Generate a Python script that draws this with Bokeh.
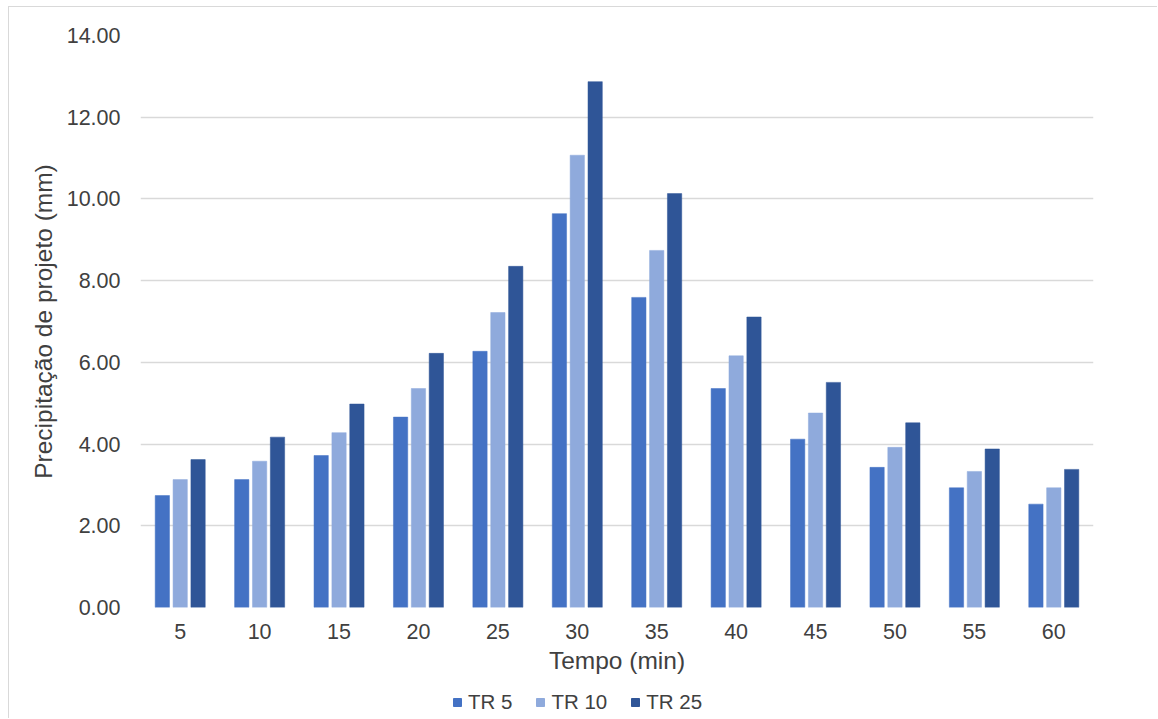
from bokeh.plotting import figure
from bokeh.layouts import column
from bokeh.models import (FactorRange, Range1d, ColumnDataSource, FixedTicker,
                          NumeralTickFormatter, Legend, LegendItem)
from bokeh.transform import dodge
from bokeh.embed import file_html
from bokeh.resources import INLINE

categories = ["5", "10", "15", "20", "25", "30", "35", "40", "45", "50", "55", "60"]
tr5 = [2.74, 3.13, 3.72, 4.66, 6.27, 9.64, 7.59, 5.36, 4.12, 3.43, 2.93, 2.53]
tr10 = [3.13, 3.58, 4.28, 5.36, 7.22, 11.07, 8.74, 6.16, 4.76, 3.92, 3.33, 2.93]
tr25 = [3.62, 4.17, 4.98, 6.22, 8.35, 12.87, 10.13, 7.11, 5.51, 4.52, 3.88, 3.38]
series_names = ["TR 5", "TR 10", "TR 25"]
y_ticks = [0, 2, 4, 6, 8, 10, 12, 14]

colors = ["#4472C4", "#8FAADC", "#2F5597"]
FONT = "Liberation Sans"
TXT = "#404040"

source = ColumnDataSource(dict(cat=categories, tr5=tr5, tr10=tr10, tr25=tr25))
keys = ["tr5", "tr10", "tr25"]
offsets = [-0.225, 0.0, 0.225]

p = figure(x_range=FactorRange(*categories), y_range=Range1d(0, 14),
           width=1148, height=680, output_backend="svg", toolbar_location=None,
           min_border_left=131, min_border_right=64, min_border_top=28,
           min_border_bottom=80)
p.outline_line_color = None
p.background_fill_color = "white"
p.border_fill_color = "white"

for key, off, col in zip(keys, offsets, colors):
    p.vbar(x=dodge("cat", off, range=p.x_range), top=key, width=0.18,
           source=source, fill_color=col, line_color=col, line_width=0.5)

p.xgrid.grid_line_color = None
p.ygrid.grid_line_color = "#d9d9d9"
p.ygrid.grid_line_width = 1.3
p.yaxis.ticker = FixedTicker(ticks=y_ticks)
p.yaxis.formatter = NumeralTickFormatter(format="0.00")

for ax in (p.xaxis[0], p.yaxis[0]):
    ax.axis_line_color = None
    ax.major_tick_line_color = None
    ax.minor_tick_line_color = None
    ax.major_tick_out = 0
    ax.major_tick_in = 0
    ax.major_label_text_font = FONT
    ax.major_label_text_font_size = "21.5px"
    ax.major_label_text_color = TXT
    ax.axis_label_text_font = FONT
    ax.axis_label_text_font_size = "24.5px"
    ax.axis_label_text_color = TXT
    ax.axis_label_text_font_style = "normal"

p.xaxis.axis_label = "Tempo (min)"
p.yaxis.axis_label = "Precipitação de projeto (mm)"
p.xaxis.major_label_standoff = 16
p.xaxis.axis_label_standoff = 5
p.yaxis.major_label_standoff = 20
p.yaxis.axis_label_standoff = 7

# legend strip below the chart (its bars lie outside its y range; only the legend shows)
pl = figure(x_range=p.x_range, y_range=Range1d(100, 101),
            width=1148, height=31, output_backend="svg", toolbar_location=None,
            x_axis_location=None, y_axis_location=None,
            min_border_left=131, min_border_right=64, min_border_top=0, min_border_bottom=0)
pl.outline_line_color = None
pl.grid.grid_line_color = None
pl.background_fill_color = "white"
pl.border_fill_color = "white"
leg_renderers = [pl.vbar(x=dodge("cat", off, range=pl.x_range), top=key, width=0.18,
                         source=source, fill_color=col, line_color=col)
                 for key, off, col in zip(keys, offsets, colors)]

legend = Legend(items=[LegendItem(label=n, renderers=[r]) for n, r in zip(series_names, leg_renderers)],
                location=(312, 4), orientation="horizontal")
legend.border_line_color = None
legend.background_fill_alpha = 0
legend.padding = 0
legend.margin = 0
legend.spacing = 23
legend.glyph_width = 10
legend.glyph_height = 10
legend.label_standoff = 6
legend.label_height = 20
legend.label_text_font = FONT
legend.label_text_font_size = "20.5px"
legend.label_text_color = TXT
pl.add_layout(legend, "center")

layout = column(p, pl, spacing=0)
layout.styles = {"margin-left": "8px", "margin-top": "6px",
                 "border-left": "1px solid #d9d9d9", "border-top": "1px solid #d9d9d9"}

open("out.html", "w").write(file_html(layout, INLINE))
